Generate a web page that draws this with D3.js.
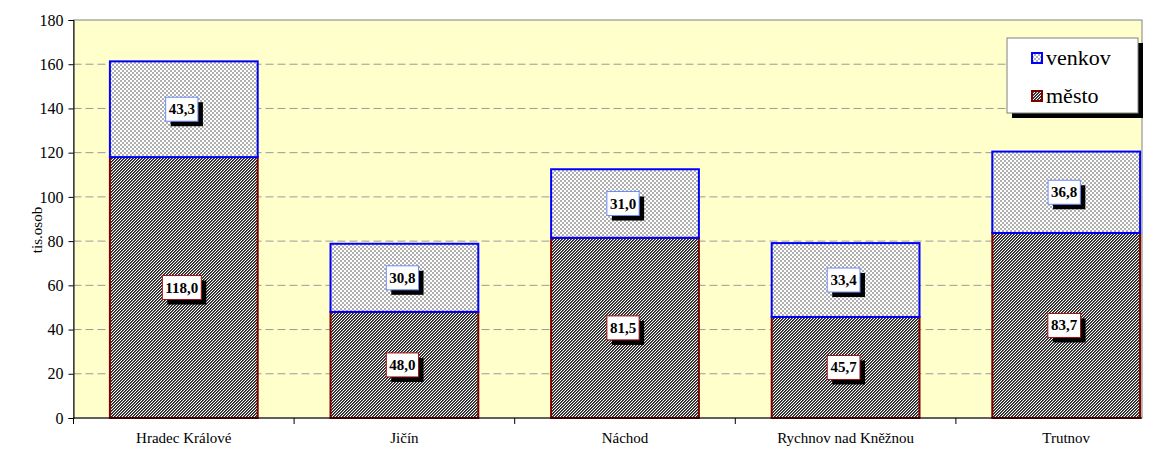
<!DOCTYPE html>
<html>
<head>
  <meta charset="UTF-8">
</head>
<body style="margin:0">
  <div class="canvas"></div>
  <script src="https://d3js.org/d3.v7.min.js"></script>
  <script>
    const categories = ['Hradec Králové', 'Jičín', 'Náchod', 'Rychnov nad Kněžnou', 'Trutnov'];
    const mesto = [118.0, 48.0, 81.5, 45.7, 83.7];
    const venkov = [43.3, 30.8, 31.0, 33.4, 36.8];
    const yTicks = [0, 20, 40, 60, 80, 100, 120, 140, 160, 180];
    const seriesNames = ['venkov', 'město'];

    const FONT = '"Liberation Serif", "Times New Roman", Tinos, serif';
    const width = 1165;
    const height = 450;
    const plotLeft = 73.5, plotTop = 20, plotBottom = 418, plotRight = 1142;
    const catStep = 220.6;

    const svg = d3.select('.canvas')
      .append('svg')
      .attr('width', width)
      .attr('height', height)
      .style('font-family', FONT);

    // patterns
    const defs = svg.append('defs');
    const pv = defs.append('pattern')
      .attr('id', 'pat-venkov')
      .attr('patternUnits', 'userSpaceOnUse')
      .attr('width', 4).attr('height', 4)
      .attr('shape-rendering', 'crispEdges');
    pv.append('rect').attr('width', 4).attr('height', 4).attr('fill', '#fff');
    pv.append('rect').attr('x', 0).attr('y', 0).attr('width', 2).attr('height', 2).attr('fill', '#b0b0b0');
    pv.append('rect').attr('x', 2).attr('y', 2).attr('width', 2).attr('height', 2).attr('fill', '#b0b0b0');

    const pm = defs.append('pattern')
      .attr('id', 'pat-mesto')
      .attr('patternUnits', 'userSpaceOnUse')
      .attr('width', 3).attr('height', 3)
      .attr('shape-rendering', 'crispEdges');
    pm.append('rect').attr('width', 3).attr('height', 3).attr('fill', '#fff');
    for (let i = 0; i < 3; i++) {
      pm.append('rect').attr('x', i).attr('y', 2 - i).attr('width', 1).attr('height', 1).attr('fill', '#222');
      pm.append('rect').attr('x', i).attr('y', (3 - i) % 3).attr('width', 1).attr('height', 1).attr('fill', '#555');
    }

    const x = d3.scaleBand()
      .domain(categories)
      .range([plotLeft, plotLeft + catStep * categories.length])
      .paddingInner(0.33)
      .paddingOuter(0.165);

    const cat = d3.scaleBand()
      .domain(categories)
      .range([plotLeft, plotLeft + catStep * categories.length]);

    const y = d3.scaleLinear()
      .domain([0, 180])
      .range([plotBottom, plotTop]);

    // plot area
    svg.append('rect')
      .attr('x', plotLeft).attr('y', plotTop)
      .attr('width', plotRight - plotLeft).attr('height', plotBottom - plotTop)
      .attr('fill', '#ffffcc')
      .attr('stroke', '#808080')
      .attr('stroke-width', 1);

    // grid
    svg.append('g')
      .selectAll('line')
      .data(yTicks.filter(d => d > 0 && d < 180))
      .join('line')
      .attr('x1', plotLeft).attr('x2', plotRight)
      .attr('y1', d => y(d)).attr('y2', d => y(d))
      .attr('stroke', '#9a9a9a')
      .attr('stroke-dasharray', '8,4');

    // bars
    const stacks = [
      { name: 'město', values: mesto, base: mesto.map(() => 0), fill: 'url(#pat-mesto)', stroke: '#800000', boxStroke: '#a01010' },
      { name: 'venkov', values: venkov, base: mesto, fill: 'url(#pat-venkov)', stroke: '#0000ff', boxStroke: '#6a8cff' }
    ];

    stacks.forEach(s => {
      svg.append('g')
        .selectAll('rect')
        .data(categories)
        .join('rect')
        .attr('x', d => x(d))
        .attr('width', x.bandwidth())
        .attr('y', (d, i) => y(s.base[i] + s.values[i]))
        .attr('height', (d, i) => y(s.base[i]) - y(s.base[i] + s.values[i]))
        .attr('fill', s.fill)
        .attr('stroke', s.stroke)
        .attr('stroke-width', 2);
    });

    // value labels
    const fmt = v => d3.format('.1f')(v).replace('.', ',');
    stacks.forEach(s => {
      categories.forEach((c, i) => {
        const cx = x(c) + x.bandwidth() / 2 - 2;
        const cy = y(s.base[i] + s.values[i] / 2);
        const g = svg.append('g');
        const t = g.append('text')
          .attr('x', cx).attr('y', cy + 5)
          .attr('text-anchor', 'middle')
          .style('font-family', FONT)
          .style('font-size', '15px')
          .style('font-weight', 'bold')
          .text(fmt(s.values[i]));
        const bb = t.node().getBBox();
        const bw = bb.width + 6, bh = 24;
        g.insert('rect', 'text')
          .attr('x', cx - bw / 2 + 5).attr('y', cy - bh / 2 + 5)
          .attr('width', bw).attr('height', bh)
          .attr('fill', '#000');
        g.insert('rect', 'text')
          .attr('x', cx - bw / 2).attr('y', cy - bh / 2)
          .attr('width', bw).attr('height', bh)
          .attr('fill', '#fff')
          .attr('stroke', s.boxStroke)
          .attr('stroke-width', 1);
      });
    });

    // y axis
    const gY = svg.append('g')
      .attr('transform', `translate(${plotLeft},0)`)
      .call(d3.axisLeft(y).tickValues(yTicks).tickSize(5).tickPadding(5));
    gY.attr('font-family', null).attr('font-size', null);
    gY.selectAll('text').style('font-family', FONT).style('font-size', '16px');
    gY.select('.domain').attr('stroke', '#000');
    gY.selectAll('.tick line').attr('stroke', '#000');

    // x axis
    svg.append('line')
      .attr('x1', plotLeft).attr('x2', plotRight)
      .attr('y1', plotBottom).attr('y2', plotBottom)
      .attr('stroke', '#000');
    svg.append('g')
      .selectAll('line')
      .data(categories)
      .join('line')
      .attr('x1', d => cat(d)).attr('x2', d => cat(d))
      .attr('y1', plotBottom).attr('y2', plotBottom + 6)
      .attr('stroke', '#000');
    const gX = svg.append('g')
      .attr('transform', `translate(0,${plotBottom})`)
      .call(d3.axisBottom(cat).tickSize(0).tickPadding(14));
    gX.attr('font-family', null).attr('font-size', null);
    gX.selectAll('text').style('font-family', FONT).style('font-size', '15px');
    gX.select('.domain').remove();

    // y title
    svg.append('text')
      .attr('transform', 'translate(42,230) rotate(-90)')
      .attr('text-anchor', 'middle')
      .style('font-family', FONT)
      .style('font-size', '15px')
      .text('tis.osob');

    // legend
    const lx = 1007, ly = 38, lw = 131, lh = 75;
    svg.append('rect')
      .attr('x', lx + 5).attr('y', ly + 5)
      .attr('width', lw).attr('height', lh)
      .attr('fill', '#000');
    svg.append('rect')
      .attr('x', lx).attr('y', ly)
      .attr('width', lw).attr('height', lh)
      .attr('fill', '#fff')
      .attr('stroke', '#808080');
    const legendFill = { 'venkov': 'url(#pat-venkov)', 'město': 'url(#pat-mesto)' };
    const legendStroke = { 'venkov': '#0000ff', 'město': '#800000' };
    seriesNames.forEach((n, i) => {
      const yy = ly + 20 + i * 38;
      svg.append('rect')
        .attr('x', lx + 25).attr('y', yy - 5)
        .attr('width', 10).attr('height', 10)
        .attr('fill', legendFill[n])
        .attr('stroke', legendStroke[n])
        .attr('stroke-width', 2);
      svg.append('text')
        .attr('x', lx + 39).attr('y', yy + 7)
        .style('font-family', FONT)
        .style('font-size', '22px')
        .text(n);
    });
  </script>
</body>
</html>
